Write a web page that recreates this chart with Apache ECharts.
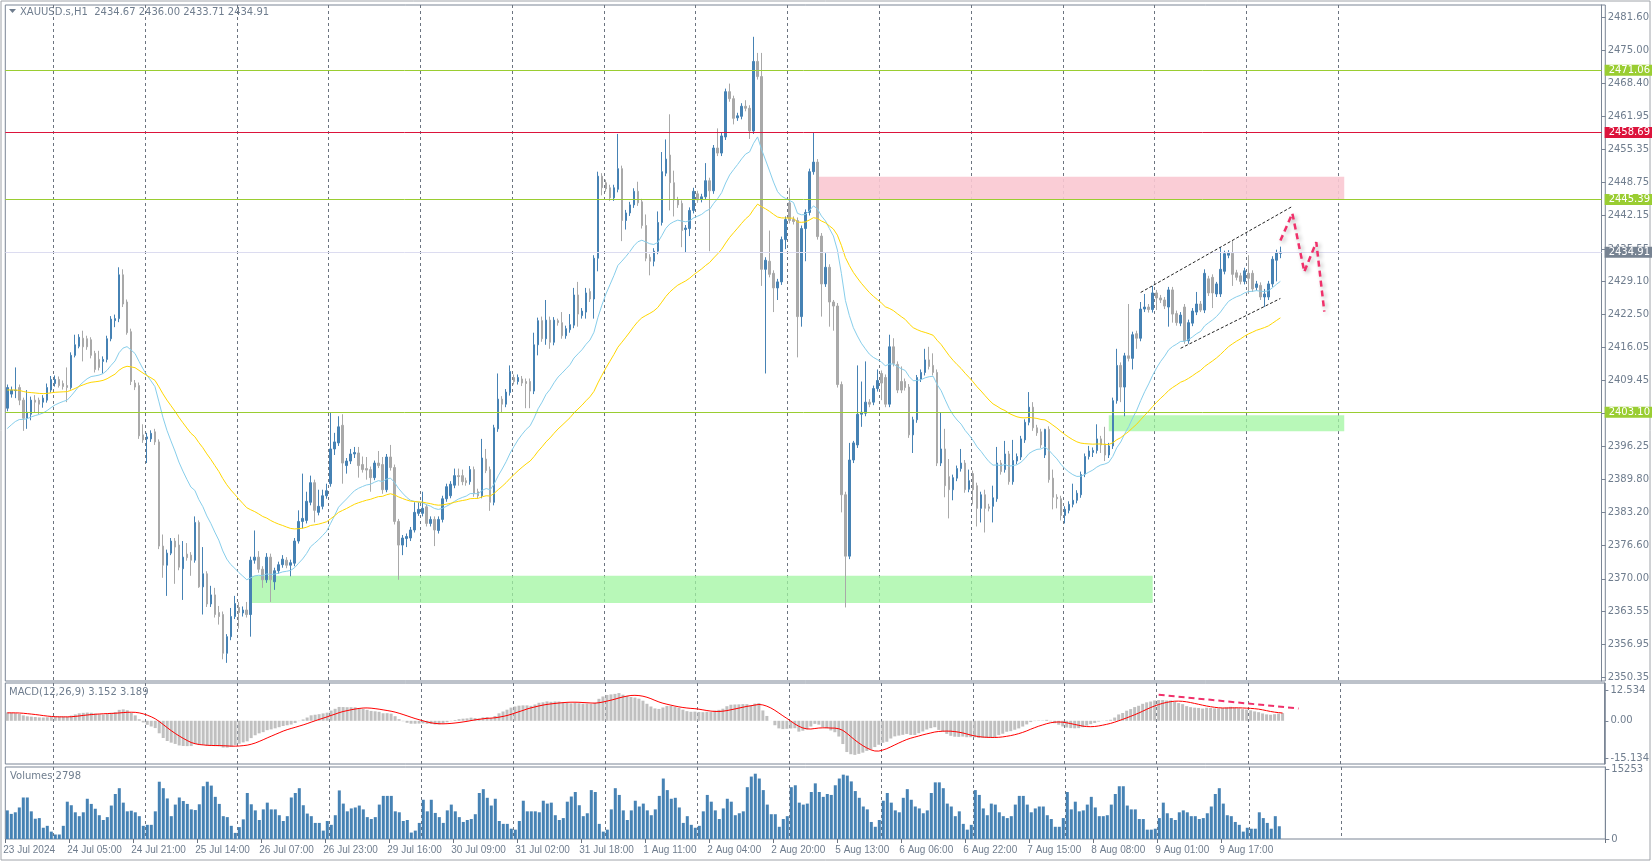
<!DOCTYPE html>
<html><head><meta charset="utf-8">
<script src="https://cdn.jsdelivr.net/npm/echarts@6/dist/echarts.min.js"></script>
<style>html,body{margin:0;padding:0;background:#fff}#c{width:1652px;height:862px}</style>
</head><body><div id="c"></div>
<script>
const xTickLabels=["23 Jul 2024","24 Jul 05:00","24 Jul 21:00","25 Jul 14:00","26 Jul 07:00","26 Jul 23:00","29 Jul 16:00","30 Jul 09:00","31 Jul 02:00","31 Jul 18:00","1 Aug 11:00","2 Aug 04:00","2 Aug 20:00","5 Aug 13:00","6 Aug 06:00","6 Aug 22:00","7 Aug 15:00","8 Aug 08:00","9 Aug 01:00","9 Aug 17:00"];
const yTicks=[2481.60,2475.00,2468.40,2461.95,2455.35,2448.75,2442.15,2435.55,2429.10,2422.50,2416.05,2409.45,2402.85,2396.25,2389.80,2383.20,2376.60,2370.00,2363.55,2356.95,2350.35];
const opens=[2403.9,2406.7,2407.4,2408.0,2405.5,2401.9,2402.7,2405.5,2405.5,2405.1,2405.5,2407.5,2408.8,2409.6,2408.8,2408.4,2408.0,2414.4,2416.2,2417.8,2417.7,2417.5,2414.8,2413.6,2413.2,2413.6,2417.7,2421.3,2421.7,2430.4,2425.0,2419.1,2408.9,2408.4,2398.6,2397.8,2397.8,2399.2,2397.2,2376.5,2372.7,2375.1,2377.5,2376.7,2372.0,2374.9,2374.7,2373.7,2381.2,2368.4,2371.0,2365.0,2366.8,2363.3,2362.9,2355.2,2358.5,2362.5,2364.3,2363.2,2363.8,2362.9,2373.7,2374.3,2371.9,2369.8,2374.3,2369.4,2371.6,2372.8,2373.7,2372.7,2373.1,2377.5,2381.4,2381.6,2385.2,2389.1,2383.2,2384.4,2386.5,2388.9,2395.8,2397.0,2400.5,2392.5,2393.4,2394.8,2395.0,2392.7,2391.9,2391.7,2390.1,2393.0,2392.7,2387.7,2394.2,2392.1,2381.4,2376.7,2378.0,2378.1,2379.7,2383.0,2383.0,2384.3,2381.0,2381.8,2379.6,2381.8,2385.9,2386.5,2388.6,2390.5,2390.5,2389.5,2389.3,2391.7,2387.3,2386.5,2393.8,2391.7,2385.2,2399.8,2405.7,2404.7,2407.0,2410.0,2409.2,2409.7,2409.2,2409.2,2407.3,2416.5,2421.3,2417.7,2421.4,2417.0,2421.3,2420.9,2418.3,2419.5,2420.4,2426.4,2422.3,2423.0,2427.1,2425.6,2433.7,2450.0,2448.7,2447.7,2445.7,2447.4,2451.5,2441.2,2442.7,2444.3,2447.0,2444.9,2440.2,2433.9,2433.1,2435.1,2440.8,2450.6,2454.2,2448.7,2445.3,2444.6,2439.4,2439.6,2443.2,2446.5,2445.4,2445.9,2449.1,2447.1,2455.6,2454.6,2457.8,2466.8,2465.4,2461.6,2461.9,2463.9,2463.5,2459.0,2472.8,2469.8,2431.5,2433.1,2430.7,2427.8,2429.0,2437.4,2444.7,2441.4,2441.2,2422.1,2439.6,2442.8,2450.9,2452.8,2438.1,2428.6,2431.9,2425.0,2424.2,2408.6,2386.7,2374.5,2393.6,2396.6,2402.7,2402.9,2405.1,2405.1,2407.8,2410.8,2410.0,2404.7,2416.1,2412.6,2409.2,2409.2,2408.1,2398.6,2401.6,2409.7,2411.0,2413.5,2412.4,2411.0,2393.0,2395.8,2390.3,2387.7,2390.0,2391.9,2393.0,2387.8,2390.9,2388.5,2384.0,2386.7,2384.3,2384.4,2385.9,2393.0,2391.7,2394.8,2389.3,2393.4,2394.2,2397.6,2401.1,2404.1,2400.0,2399.2,2394.6,2399.7,2390.0,2386.2,2385.9,2382.6,2383.6,2384.8,2385.6,2386.7,2390.8,2394.3,2395.1,2395.5,2397.8,2396.8,2394.6,2396.4,2405.4,2412.4,2408.1,2414.3,2413.8,2418.7,2417.8,2423.6,2424.0,2423.5,2426.8,2425.8,2425.4,2424.0,2427.4,2422.7,2420.8,2424.0,2417.3,2420.8,2423.0,2424.6,2423.4,2429.6,2429.9,2426.6,2426.6,2431.1,2434.3,2434.7,2430.8,2430.2,2429.1,2430.7,2430.7,2427.9,2428.3,2426.0,2426.0,2428.6,2433.3,2434.67];
const closes=[2408.0,2407.5,2407.5,2405.5,2401.9,2403.1,2405.5,2405.1,2404.7,2405.9,2408.0,2409.6,2409.6,2408.4,2408.2,2408.0,2414.4,2416.5,2418.0,2416.1,2416.1,2414.4,2411.6,2412.0,2413.6,2417.7,2421.6,2421.7,2430.4,2424.6,2418.9,2409.2,2408.1,2398.4,2397.6,2398.2,2398.9,2397.2,2376.5,2372.7,2375.1,2377.5,2376.3,2372.3,2374.3,2374.2,2373.7,2381.2,2368.4,2371.0,2365.0,2366.8,2362.9,2362.5,2355.2,2358.5,2362.5,2365.1,2363.3,2363.8,2362.9,2373.7,2374.3,2371.9,2369.8,2374.3,2369.8,2371.6,2372.8,2373.9,2372.7,2373.2,2377.5,2381.4,2382.0,2385.4,2389.1,2383.6,2384.4,2386.5,2387.5,2395.8,2397.2,2400.2,2393.0,2393.4,2394.8,2395.1,2392.5,2391.7,2391.6,2390.1,2393.0,2392.5,2387.7,2394.2,2392.1,2381.4,2376.7,2378.1,2378.4,2379.7,2383.2,2383.8,2384.0,2381.0,2381.8,2379.7,2381.8,2385.9,2388.3,2388.8,2390.5,2390.3,2389.3,2389.1,2391.7,2386.9,2386.5,2394.0,2391.5,2385.2,2400.0,2405.7,2404.7,2407.1,2411.2,2409.2,2410.0,2408.9,2408.8,2407.3,2416.5,2421.3,2417.7,2421.4,2417.0,2421.4,2420.9,2418.3,2419.7,2420.5,2426.4,2422.6,2423.2,2426.8,2425.6,2433.7,2450.0,2447.7,2447.5,2445.7,2447.7,2451.5,2441.2,2442.7,2444.3,2447.0,2444.7,2440.2,2433.7,2433.1,2435.1,2440.8,2450.9,2453.4,2448.7,2445.3,2444.3,2439.2,2439.7,2443.2,2447.0,2445.3,2445.9,2449.1,2447.1,2455.6,2454.6,2458.0,2466.8,2465.4,2461.5,2462.0,2463.9,2463.5,2459.0,2472.8,2469.8,2431.5,2433.3,2430.5,2427.8,2429.0,2437.4,2441.4,2441.2,2441.0,2422.1,2439.6,2442.8,2450.9,2452.8,2438.0,2428.6,2431.9,2425.0,2424.2,2408.6,2386.7,2374.5,2393.6,2397.0,2402.7,2403.1,2405.1,2404.7,2407.8,2409.4,2408.9,2404.7,2416.1,2412.8,2407.5,2407.5,2408.0,2398.6,2401.6,2410.0,2411.0,2413.5,2412.2,2411.0,2393.0,2395.8,2388.5,2387.7,2390.1,2391.9,2393.0,2387.7,2389.5,2387.7,2384.0,2386.7,2384.0,2384.0,2386.1,2393.0,2391.3,2394.8,2389.3,2393.5,2394.3,2397.8,2401.1,2404.1,2400.0,2399.0,2396.6,2399.7,2389.7,2386.2,2385.9,2382.6,2383.8,2384.8,2385.6,2387.0,2390.7,2394.3,2395.4,2395.5,2397.8,2396.6,2394.6,2396.4,2405.4,2412.4,2408.1,2414.3,2413.8,2418.5,2417.8,2423.6,2424.0,2423.5,2426.8,2425.8,2425.4,2424.2,2427.4,2422.6,2420.9,2422.4,2417.3,2420.9,2423.2,2424.6,2423.4,2430.7,2426.8,2426.8,2428.6,2431.5,2434.6,2434.7,2430.5,2429.9,2429.1,2431.2,2429.7,2427.6,2428.6,2426.0,2426.6,2428.6,2433.5,2434.8,2434.91];
const lows=[2403.3,2406.0,2405.9,2404.5,2399.4,2399.8,2401.5,2403.0,2402.7,2404.0,2405.0,2407.0,2408.2,2408.0,2407.6,2405.1,2407.6,2414.0,2415.8,2413.2,2415.5,2413.8,2411.0,2411.4,2410.8,2413.0,2417.2,2420.0,2421.0,2424.0,2418.5,2408.5,2407.5,2397.8,2397.0,2393.0,2397.2,2396.6,2375.9,2370.2,2366.6,2374.7,2369.0,2371.7,2365.8,2373.6,2370.6,2373.2,2368.2,2362.9,2364.4,2364.4,2362.3,2360.9,2354.0,2353.3,2357.8,2362.0,2360.1,2362.5,2362.3,2358.5,2373.0,2371.2,2368.2,2369.2,2365.4,2367.8,2371.0,2372.2,2372.1,2370.5,2372.5,2377.0,2380.0,2381.0,2384.6,2381.2,2382.6,2383.8,2385.9,2388.3,2394.6,2396.4,2388.9,2390.9,2392.8,2394.0,2390.1,2391.1,2389.7,2387.3,2389.6,2392.0,2386.9,2387.2,2391.5,2380.8,2369.8,2374.7,2376.3,2377.5,2379.2,2382.5,2382.4,2380.4,2380.4,2376.5,2379.0,2381.2,2385.3,2386.0,2388.0,2388.5,2388.6,2388.5,2388.7,2386.3,2386.0,2386.0,2391.0,2383.5,2384.6,2399.2,2403.1,2404.1,2406.4,2408.6,2408.6,2408.3,2403.9,2403.9,2406.7,2414.4,2417.1,2416.5,2415.7,2416.4,2420.3,2417.7,2417.7,2418.9,2419.8,2420.1,2421.7,2421.7,2425.0,2421.7,2431.1,2446.2,2446.9,2445.1,2445.1,2446.8,2437.1,2439.4,2442.1,2443.7,2444.1,2439.6,2433.1,2430.3,2432.1,2434.5,2440.2,2450.0,2443.2,2442.0,2443.7,2435.9,2434.9,2438.1,2442.6,2444.7,2444.8,2445.3,2435.1,2446.5,2454.0,2454.0,2457.2,2464.8,2460.3,2461.0,2461.3,2462.9,2457.4,2458.4,2469.2,2428.2,2410.8,2429.9,2423.0,2425.4,2428.4,2435.5,2440.6,2440.4,2414.0,2420.1,2433.1,2442.2,2450.3,2437.4,2422.1,2428.0,2420.1,2419.3,2408.0,2383.2,2364.3,2373.9,2393.0,2396.0,2400.2,2402.3,2404.1,2404.5,2407.2,2405.5,2404.1,2404.1,2412.2,2406.9,2406.9,2407.4,2398.0,2395.0,2401.0,2409.1,2410.4,2411.6,2410.4,2392.4,2392.4,2386.2,2382.0,2385.6,2389.4,2391.3,2387.1,2387.2,2384.8,2380.4,2381.2,2379.2,2383.4,2381.2,2385.3,2390.7,2391.1,2388.7,2388.7,2392.8,2393.6,2397.0,2400.5,2399.4,2398.4,2396.0,2394.0,2389.1,2383.8,2384.0,2381.6,2381.0,2383.0,2384.2,2385.0,2386.1,2390.2,2393.7,2394.2,2394.9,2395.0,2393.4,2394.0,2395.8,2404.8,2405.1,2402.3,2413.2,2411.6,2415.7,2417.2,2423.0,2422.9,2422.9,2423.4,2424.8,2423.6,2420.1,2420.9,2420.3,2420.2,2416.7,2416.7,2420.2,2422.4,2423.0,2422.8,2426.2,2423.8,2426.0,2426.0,2430.5,2433.7,2428.2,2429.3,2428.5,2428.5,2426.6,2427.0,2427.3,2425.4,2424.0,2425.4,2428.0,2429.1,2433.71];
const highs=[2408.6,2408.2,2412.0,2408.6,2406.0,2407.5,2406.2,2406.5,2406.0,2406.5,2408.8,2410.3,2410.4,2410.2,2409.4,2412.0,2415.0,2418.5,2418.6,2419.3,2418.3,2418.0,2415.3,2415.3,2414.2,2418.3,2422.2,2422.5,2431.9,2431.5,2425.5,2419.7,2409.5,2409.0,2400.7,2399.0,2399.5,2399.8,2397.7,2378.8,2375.8,2378.1,2378.1,2378.8,2377.5,2377.1,2375.3,2382.4,2381.6,2376.3,2371.5,2368.6,2368.2,2364.6,2363.5,2359.0,2364.2,2366.6,2365.4,2364.5,2365.4,2374.4,2379.6,2375.5,2372.5,2375.1,2375.0,2372.2,2373.4,2374.7,2374.3,2373.8,2378.1,2383.6,2390.9,2387.3,2390.5,2389.7,2387.7,2387.7,2388.9,2403.1,2399.0,2402.3,2402.7,2394.0,2395.8,2396.2,2396.2,2394.3,2394.2,2392.3,2393.5,2395.4,2394.2,2394.8,2396.6,2392.7,2381.9,2378.7,2379.0,2380.3,2385.2,2385.2,2387.3,2384.8,2382.4,2382.4,2382.4,2386.5,2388.9,2389.4,2391.9,2391.9,2391.7,2390.1,2392.4,2392.3,2387.9,2397.8,2395.8,2392.3,2400.6,2410.8,2406.3,2407.7,2412.4,2410.6,2410.6,2410.3,2409.8,2409.8,2418.9,2421.9,2422.1,2425.4,2422.1,2422.0,2421.7,2423.0,2420.3,2422.6,2427.8,2429.0,2423.8,2427.8,2427.7,2434.3,2450.9,2450.6,2449.3,2448.3,2448.3,2458.4,2452.1,2443.3,2444.9,2447.6,2448.9,2445.5,2442.4,2434.5,2435.7,2443.0,2454.8,2457.3,2462.3,2451.1,2445.9,2445.2,2440.3,2443.8,2447.7,2447.1,2446.5,2452.6,2449.7,2456.2,2459.5,2458.6,2467.4,2468.4,2466.0,2462.6,2464.5,2465.1,2464.1,2477.7,2474.5,2474.5,2433.9,2439.2,2431.3,2429.6,2438.0,2442.0,2447.7,2442.0,2441.8,2440.2,2443.4,2451.5,2458.6,2453.4,2438.7,2434.7,2432.5,2425.4,2424.8,2409.2,2387.3,2397.0,2397.4,2412.4,2409.2,2413.2,2405.7,2408.4,2411.6,2411.4,2410.6,2418.5,2417.8,2413.2,2412.2,2409.8,2408.7,2402.2,2410.5,2411.6,2415.7,2416.1,2414.8,2411.6,2403.1,2399.8,2393.8,2390.7,2392.5,2395.8,2393.6,2391.7,2391.5,2389.1,2387.3,2387.7,2384.9,2388.5,2396.2,2393.6,2397.4,2395.4,2397.6,2394.9,2398.4,2401.7,2407.1,2405.1,2400.6,2399.8,2399.8,2400.3,2391.7,2386.8,2386.5,2384.4,2385.4,2388.9,2387.6,2391.3,2394.9,2396.4,2396.1,2400.7,2398.4,2400.2,2397.0,2406.0,2415.7,2413.0,2414.9,2424.6,2419.1,2419.3,2425.0,2426.6,2424.6,2428.2,2427.4,2426.4,2426.0,2428.0,2428.0,2423.3,2423.0,2424.6,2421.5,2423.8,2427.0,2425.2,2431.5,2430.2,2430.5,2429.0,2435.9,2435.2,2435.3,2437.1,2431.4,2430.8,2431.8,2434.3,2431.3,2429.2,2428.9,2427.6,2429.2,2434.1,2435.4,2436.00];
const volumesA=[6280,5510,5860,6920,9110,9110,6070,4450,4590,2470,2890,1620,990,990,2890,8190,7410,5860,5010,5860,8830,7700,6640,5220,4170,4800,7340,9880,11150,7980,6070,6210,5860,5010,2890,3110,3110,6070,12570,11150,8900,5010,7550,9110,8330,7700,6500,6350,7620,11580,12570,11720,9250,7700,5010,4800,2890,1340,2610,4310,10100,7620,6280,4170,6500,7980,6500,6500,5220,3950,5010,9110,10100,11150,7410,5580,5010,3530,3530,1840,3950,3110,5220,10660,7770,6070,6710,6920,7340,6500,4800,4380,4800,7550,9460,9460,9460,6070,5860,3950,4170,1410,1840,3530,8610,6070];
const volumesB=[8610,5720,4800,3530,6280,7550,6070,4800,3740,4170,4380,5440,10100,10940,9040,7340,8830,3950,3320,3320,2260,2050,3950,8400,6070,6070,6070,5860,8400,7770,7980,5220,4170,4590,8190,9320,10310,7410,5010,5650,10730,10310,3320,1620,2050,6500,11150,9670,6280,4170,6280,8400,7130,7770,6280,5220,6500,9460,13270,10730,8830,9040,6920,3530,5010,3110,2470,2890,6070,9670,8190,6280,4380,6710,8830,8190,5220,5650,6070,11370,13700,14330,13270,10730,7550,5440,5440,2680,4380,5010,11370,11790,7980,7550,7770,10310,12210,10310,9250,9880,9670,11790,13270,14120,13910,12640,10520,9040];
const volumesC=[7130,6500,3740,2680,4170,8400,10100,7980,6280,5860,9040,10940,8610,7130,6710,5650,6280,10100,12430,12430,11150,7770,7130,5010,6070,3320,2050,3110,10730,9670,6710,5220,7770,7550,5860,5010,4590,5010,7550,9460,9460,7550,5860,6710,7130,7130,5220,4380,2680,2680,4590,10310,6500,8190,6070,6280,7550,9250,6920,5010,5010,5220,7550,9880,11580,11580,7340,6500,6500,4380,4380,2050,2050,2260,4590,7980,5650,4590,4170,5860,6280,5860,5010,5010,4380,4590,5650,7130,9880,11150,7770,5220,5010,3740,3110,1620,2470,2260,2260,5860,4590,3530,2260,5010,2798];
const levelPrices=[2471.06,2458.69,2445.39,2403.10];
const levelColors=['#9ACD32','#DC143C','#9ACD32','#9ACD32'];
const lastPrice=2434.91;
const pinkZone=[203,335,2445.3,2449.9];
const greenZoneLow=[61,287,2365.2,2370.6];
const greenZoneRight=[276,335,2399.3,2402.5];
const channelUpper=[[284,2426.9],[322,2444.0]];
const channelLower=[[294,2415.8],[319,2425.7]];
const forecastPath=[[319,2437.2],[322,2442.6],[325,2431.0],[328,2436.9],[330,2423.1]];
const macdTrend=[[288,10.6],[323,5.0]];

const volumes=volumesA.concat(volumesB,volumesC);
const N=400;
const cats=Array.from({length:N},(_,i)=>String(i));
const candles=opens.map((o,i)=>[o,closes[i],Math.min(lows[i],o,closes[i]),Math.max(highs[i],o,closes[i])]);
function ema(arr,p,seed){const k=2/(p+1);let e=seed;return arr.map(v=>(e=v*k+e*(1-k)));}
const maFast=ema(closes,20,2399.0);
const maSlow=ema(closes,50,2407.5);
const e12=ema(closes,12,2406.0),e26=ema(closes,26,2402.5);
const macdMain=e12.map((v,i)=>v-e26[i]);
const macdSig=macdMain.map((v,i)=>{let s=0;for(let j=i-8;j<=i;j++)s+=(j<0?3.2:macdMain[j]);return s/9;});

const F='DejaVu Sans', TC='#6f7d8e';
const L0=5.3,W=1600;
const grids=[{left:L0,top:5,width:W,height:676},{left:L0,top:683,width:W,height:81},{left:L0,top:767,width:W,height:72}];
const split={show:true,interval:(i)=>i>=12&&i<=334&&(i-12)%23===0,lineStyle:{color:'#6c7480',type:[3,3],width:1}};
const xAxes=grids.map((g,gi)=>({type:'category',gridIndex:gi,data:cats,boundaryGap:true,
 axisLine:{show:false},splitLine:split,
 axisTick:{show:gi===2,interval:(i)=>i%16===0&&i<=304,length:4,lineStyle:{color:'#6c7480'}},
 axisLabel:{show:gi===2,interval:(i)=>i%16===0&&i<=304,formatter:(v,i)=>xTickLabels[i/16]||'',align:'left',margin:6,fontFamily:'Liberation Sans',fontSize:10,color:TC,padding:[0,0,0,-4]}}));
const ax={position:'right',axisLine:{show:true,lineStyle:{color:'#7a8595'}},splitLine:{show:false},axisTick:{show:true,length:4,lineStyle:{color:'#7a8595'}}};
const yAxes=[
 Object.assign({},ax,{gridIndex:0,min:2349.69,max:2484.02,axisTick:Object.assign({},ax.axisTick,{customValues:yTicks}),axisLabel:{customValues:yTicks,formatter:v=>v.toFixed(2),fontFamily:F,fontSize:10,color:TC,margin:6}}),
 Object.assign({},ax,{gridIndex:1,min:-17.56,max:15.36,axisTick:Object.assign({},ax.axisTick,{customValues:[-15.134,0,12.534]}),axisLabel:{customValues:[-15.134,0,12.534],formatter:v=>v===0?'0.00':v.toFixed(3),fontFamily:F,fontSize:10,color:TC,margin:6}}),
 Object.assign({},ax,{gridIndex:2,min:0,max:15800,axisTick:Object.assign({},ax.axisTick,{customValues:[0,15253]}),axisLabel:{customValues:[0,15253],formatter:v=>String(v),fontFamily:F,fontSize:10,color:TC,margin:6,verticalAlign:'middle'}})
];
const lvlLines=levelPrices.map((p,i)=>({yAxis:p,lineStyle:{color:levelColors[i],width:1,type:'solid'},
 label:{show:true,position:'end',distance:3,formatter:p.toFixed(2),backgroundColor:levelColors[i],color:'#fff',padding:[1,4,0,4],fontFamily:F,fontSize:10}}));
lvlLines.push({yAxis:lastPrice,lineStyle:{color:'#dcdcf0',width:1,type:'solid'},label:{show:true,position:'end',distance:3,formatter:lastPrice.toFixed(2),backgroundColor:'#778392',color:'#fff',padding:[1,4,0,4],fontFamily:F,fontSize:10}});
const area=(z,c)=>[{xAxis:z[0],yAxis:z[2],itemStyle:{color:c}},{xAxis:z[1],yAxis:z[3]}];
const chLine=(c)=>[{coord:c[0]},{coord:c[1]}];

const option={animation:false,backgroundColor:'#fff',grid:grids,xAxis:xAxes,yAxis:yAxes,
graphic:[
 {type:'rect',shape:{x:1,y:1,width:1649,height:859},style:{fill:'none',stroke:'#a0a4aa',lineWidth:1},silent:true},
 {type:'rect',shape:{x:L0,y:5,width:W,height:676},style:{fill:'none',stroke:'#7a8595',lineWidth:1},silent:true,z:-1},
 {type:'rect',shape:{x:L0,y:683,width:W,height:81},style:{fill:'none',stroke:'#7a8595',lineWidth:1},silent:true,z:-1},
 {type:'rect',shape:{x:L0,y:767,width:W,height:72},style:{fill:'none',stroke:'#7a8595',lineWidth:1},silent:true,z:-1},
 {type:'polygon',shape:{points:[[9,9],[16,9],[12.5,13]]},style:{fill:'#6f7d8e'}},
 {type:'text',left:20,top:7,style:{text:'XAUUSD.s,H1  2434.67 2436.00 2433.71 2434.91',font:'10px "DejaVu Sans"',fill:'#6f7d8e'}},
 {type:'text',left:9,top:687,style:{text:'MACD(12,26,9) 3.152 3.189',font:'10px "DejaVu Sans"',fill:'#6f7d8e'}},
 {type:'text',left:10,top:771,style:{text:'Volumes 2798',font:'10px "DejaVu Sans"',fill:'#6f7d8e'}}
],
series:[
 {type:'candlestick',xAxisIndex:0,yAxisIndex:0,data:candles,barWidth:2,
  itemStyle:{color:'#4682B4',color0:'#A9A9A9',borderColor:'#4682B4',borderColor0:'#A9A9A9',borderWidth:1},
  markLine:{silent:true,symbol:'none',data:lvlLines.concat([chLine(channelUpper),chLine(channelLower)]),lineStyle:{color:'#222',type:[3,2],width:1}},
  markArea:{silent:true,data:[area(pinkZone,'rgba(250,200,210,0.9)'),area(greenZoneLow,'rgba(160,245,160,0.75)'),area(greenZoneRight,'rgba(160,245,160,0.75)')]},z:3},
 {type:'line',xAxisIndex:0,yAxisIndex:0,data:maFast,showSymbol:false,lineStyle:{color:'#87CEEB',width:1},z:4},
 {type:'line',xAxisIndex:0,yAxisIndex:0,data:maSlow,showSymbol:false,lineStyle:{color:'#FFD700',width:1},z:4},
 {type:'line',xAxisIndex:0,yAxisIndex:0,data:forecastPath,showSymbol:false,lineStyle:{color:'#F0306A',width:2.5,type:[6,4],shadowColor:'rgba(0,0,0,0.3)',shadowBlur:4,shadowOffsetX:2,shadowOffsetY:2},z:5},
 {type:'bar',xAxisIndex:1,yAxisIndex:1,data:macdMain,barWidth:3,itemStyle:{color:'#C0C0C0'}},
 {type:'line',xAxisIndex:1,yAxisIndex:1,data:macdSig,showSymbol:false,lineStyle:{color:'#FF0000',width:1},z:4},
 {type:'line',xAxisIndex:1,yAxisIndex:1,data:macdTrend,showSymbol:false,lineStyle:{color:'#F0306A',width:2,type:[6,4]},z:5},
 {type:'bar',xAxisIndex:2,yAxisIndex:2,data:volumes,barWidth:3,itemStyle:{color:'#4682B4'}}
]};
echarts.init(document.getElementById('c')).setOption(option);
</script></body></html>
